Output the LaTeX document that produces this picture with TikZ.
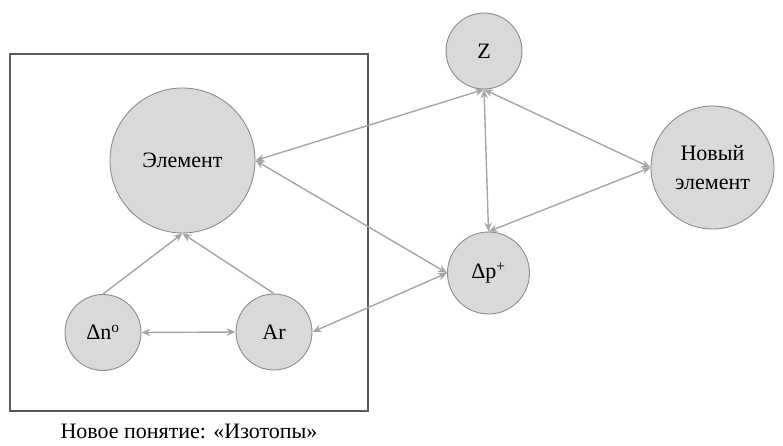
\documentclass[tikz,border=0pt]{standalone}
\usepackage{fontspec}
\setmainfont{Liberation Serif}
\usetikzlibrary{arrows.meta}

\definecolor{nodefill}{RGB}{217,217,217}
\definecolor{nodeline}{RGB}{140,140,140}
\definecolor{linkgray}{RGB}{165,165,165}
\definecolor{framegray}{RGB}{90,90,90}

\begin{document}
\begin{tikzpicture}[
  x=1pt,y=-1pt,
  concept/.style={circle,draw=nodeline,fill=nodefill,line width=0.9pt,
    inner sep=0pt,align=center,font=\fontsize{22}{29}\selectfont},
  link/.style={{Stealth[length=9pt,width=7.5pt]}-{Stealth[length=9pt,width=7.5pt]},
    draw=linkgray,line width=1.4pt},
  feed/.style={-{Stealth[length=9pt,width=7.5pt]},draw=linkgray,line width=1.4pt}]
\useasboundingbox (0,0) rectangle (783,446);
% box round the old concepts
\draw[framegray,line width=1.4pt] (10,54) rectangle (368,411);
\node[font=\fontsize{22}{26}\selectfont] (caption) at (189,431) {Новое понятие: «Изотопы»};
\node[concept,minimum size=145pt] (elem) at (182.5,160.5) {Элемент};
\node[concept,minimum size=76pt] (dn) at (103,332.5) {Δn\textsuperscript{o}};
\node[concept,minimum size=76pt] (ar) at (274,332) {Ar};
\node[concept,minimum size=76pt] (z) at (484,51) {Z};
\node[concept,minimum size=82pt] (dp) at (488.5,273) {Δp\textsuperscript{+}};
\node[concept,minimum size=123pt] (newel) at (712.5,167.5) {Новый\\элемент};
\draw[feed] (dn.north) -- (elem.south);
\draw[feed] (ar.north) -- (elem.south);
\draw[link] (dn.east) -- (ar.west);
\draw[link] (ar.east) -- (dp.west);
\draw[link] (elem.east) -- (dp.west);
\draw[link] (elem.east) -- (z.south);
\draw[link] (z.south) -- (dp.north);
\draw[link] (z.south) -- (newel.west);
\draw[link] (dp.north) -- (newel.west);
\end{tikzpicture}
\end{document}
